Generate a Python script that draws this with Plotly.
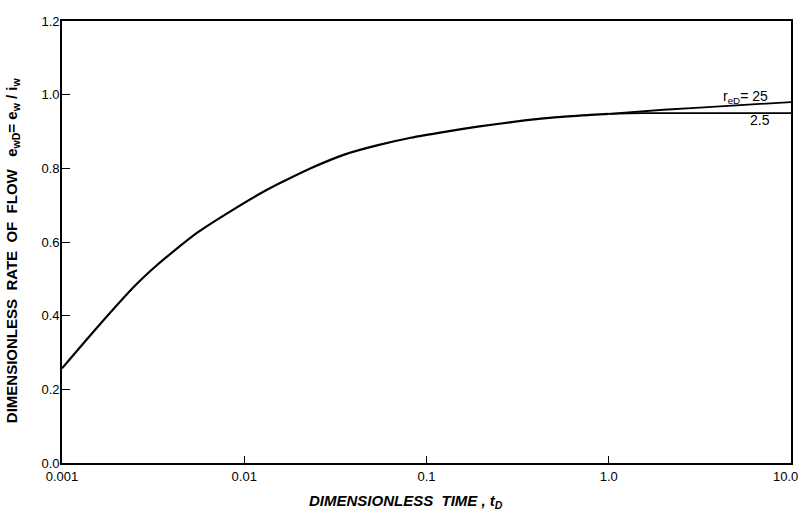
import plotly.graph_objects as go

# Common curve (both r_eD) up to t_D = 1.0
t_common = [0.001, 0.001585, 0.002512, 0.003162, 0.003981, 0.005623, 0.00857,
            0.01259, 0.01603, 0.02333, 0.03573, 0.0542, 0.08204, 0.1259,
            0.191, 0.3451, 0.5236, 0.7943, 1.0]
q_common = [0.257, 0.372, 0.481, 0.528, 0.570, 0.628, 0.686,
            0.735, 0.762, 0.801, 0.838, 0.863, 0.883, 0.899,
            0.913, 0.930, 0.939, 0.945, 0.948]

# Branches after t_D = 1.0
t_r25 = [1.0, 2.0, 5.0, 10.0]
q_r25 = [0.948, 0.959, 0.971, 0.980]
t_r2_5 = [1.0, 1.5, 3.0, 10.0]
q_r2_5 = [0.948, 0.950, 0.950, 0.950]

x_tickvals = [0.001, 0.01, 0.1, 1.0, 10.0]
x_ticktext = ["0.001", "0.01", "0.1", "1.0", ""]
last_x_label = "10.0"
y_tickvals = [0.0, 0.2, 0.4, 0.6, 0.8, 1.0, 1.2]
y_ticktext = ["0.0", "0.2", "0.4", "0.6", "0.8", "1.0", "1.2"]

W, H = 804, 520
L, R, T, B = 62, 11, 21, 57
PW, PH = W - L - R, H - T - B

def px(xp):
    return (xp - L) / PW

def py(yp):
    return (H - B - yp) / PH

fig = go.Figure()
fig.add_trace(go.Scatter(x=t_common, y=q_common, mode="lines",
                         line=dict(color="black", width=2.2, shape="spline", smoothing=0.6),
                         showlegend=False, hoverinfo="skip"))
fig.add_trace(go.Scatter(x=t_r25, y=q_r25, mode="lines",
                         line=dict(color="black", width=1.8, shape="spline", smoothing=0.6),
                         showlegend=False, hoverinfo="skip"))
fig.add_trace(go.Scatter(x=t_r2_5, y=q_r2_5, mode="lines",
                         line=dict(color="black", width=1.8),
                         showlegend=False, hoverinfo="skip"))

FONT = "Liberation Sans, Arial, sans-serif"
tickfont = dict(family=FONT, size=13, color="black")

fig.update_xaxes(type="log", range=[-3, 1], tickvals=x_tickvals, ticktext=x_ticktext,
                 ticks="inside", ticklen=7, tickwidth=1.2, tickcolor="black",
                 showline=True, linecolor="black", linewidth=1.6, mirror=True,
                 showgrid=False, zeroline=False, tickfont=tickfont, ticklabelstandoff=1)
fig.update_yaxes(range=[0, 1.2], tickvals=y_tickvals, ticktext=y_ticktext,
                 ticks="inside", ticklen=8, tickwidth=1.2, tickcolor="black",
                 showline=True, linecolor="black", linewidth=1.6, mirror=True,
                 showgrid=False, zeroline=False, tickfont=tickfont, ticklabelstandoff=-2)

annotations = [
    dict(text="<b>DIMENSIONLESS  RATE  OF  FLOW   e<sub>wD</sub>= e<sub>w</sub> / i<sub>w</sub></b>",
         xref="paper", yref="paper", x=px(13), y=py(250), textangle=-90,
         showarrow=False, xanchor="center", yanchor="middle",
         font=dict(family=FONT, size=15, color="black")),
    dict(text="<b><i>DIMENSIONLESS  TIME , t<sub>D</sub></i></b>",
         xref="paper", yref="paper", x=px(407), y=py(502),
         showarrow=False, xanchor="center", yanchor="middle",
         font=dict(family=FONT, size=15, color="black")),
    dict(text=last_x_label, xref="paper", yref="paper", x=px(802), y=py(477),
         showarrow=False, xanchor="right", yanchor="middle", font=tickfont),
    dict(text="r<sub>eD</sub>= 25", x=0.752, y=0.995, xref="x", yref="y",
         showarrow=False, xanchor="center", yanchor="middle",
         font=dict(family=FONT, size=14, color="black")),
    dict(text="2.5", x=0.83, y=0.931, xref="x", yref="y",
         showarrow=False, xanchor="center", yanchor="middle",
         font=dict(family=FONT, size=14, color="black")),
]

fig.update_layout(width=W, height=H, margin=dict(l=L, r=R, t=T, b=B),
                  paper_bgcolor="white", plot_bgcolor="white",
                  annotations=annotations)

fig.write_html("out.html", config={"displayModeBar": False},
               post_script="document.body.style.margin='0';document.body.style.overflow='hidden';")
